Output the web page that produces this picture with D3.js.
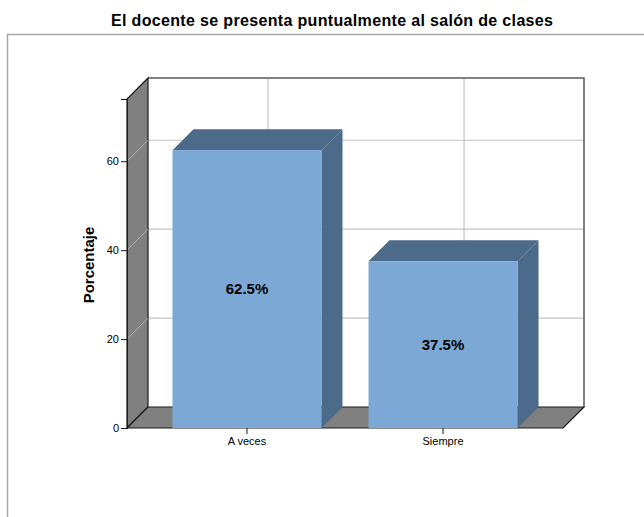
<!DOCTYPE html>
<html>
<head>
<meta charset="utf-8">
<script src="https://cdn.jsdelivr.net/npm/d3@7"></script>
<style>
  html, body { margin: 0; padding: 0; background: #fff; }
  svg { display: block; font-family: Arial, "Liberation Sans", sans-serif; }
</style>
</head>
<body>
<svg id="chart" width="644" height="517"></svg>
<script>
// Chart data
const chartTitle = "El docente se presenta puntualmente al salón de clases";
const yTitle = "Porcentaje";
const categories = ["A veces", "Siempre"];
const percentages = [62.5, 37.5];
const yTicks = [0, 20, 40, 60];
const yMax = 74;

(function () {
  const svg = d3.select("#chart");

  // Front plane of the 3D box and the depth offset to the back wall
  const plotLeft = 127, plotRight = 563, plotBottom = 428, plotTop = 99;
  const depth = 21;

  const y = d3.scaleLinear().domain([0, yMax]).range([plotBottom, plotTop]);
  const x = d3.scaleBand().domain(categories).range([plotLeft, plotRight])
    .paddingInner(0.5).paddingOuter(0.362);
  const bw = 149;

  // Outer frame
  svg.append("rect").attr("x", 7.5).attr("y", 34.5).attr("width", 660).attr("height", 520)
    .attr("fill", "none").attr("stroke", "#a6a6a6").attr("stroke-width", 1.5);

  // Title
  svg.append("text").attr("x", 332).attr("y", 26).attr("text-anchor", "middle")
    .attr("font-size", 16).attr("font-weight", "bold").attr("fill", "#000")
    .attr("textLength", 442).attr("lengthAdjust", "spacing")
    .text(chartTitle);

  const pts = a => a.map(p => p.join(",")).join(" ");

  // Back wall
  svg.append("rect").attr("x", plotLeft + depth).attr("y", plotTop - depth)
    .attr("width", plotRight - plotLeft).attr("height", plotBottom - plotTop)
    .attr("fill", "#fff");

  // Horizontal grid lines on the back wall
  yTicks.filter(t => t > 0).forEach(t => {
    svg.append("line")
      .attr("x1", plotLeft + depth).attr("x2", plotRight + depth)
      .attr("y1", y(t) - depth).attr("y2", y(t) - depth)
      .attr("stroke", "#c4c4c4").attr("stroke-width", 1.2);
  });
  // Vertical grid lines at the category centres
  categories.forEach(c => {
    const cx = x(c) + x.bandwidth() / 2 + depth;
    svg.append("line").attr("x1", cx).attr("x2", cx)
      .attr("y1", plotTop - depth).attr("y2", plotBottom - depth)
      .attr("stroke", "#c4c4c4").attr("stroke-width", 1.2);
  });

  // Back wall outline (top and right edges)
  svg.append("polyline")
    .attr("points", pts([[plotLeft + depth, plotTop - depth], [plotRight + depth, plotTop - depth], [plotRight + depth, plotBottom - depth]]))
    .attr("fill", "none").attr("stroke", "#5a5a5a").attr("stroke-width", 1.5);

  // Left side wall
  svg.append("polygon")
    .attr("points", pts([[plotLeft, plotBottom], [plotLeft, plotTop], [plotLeft + depth, plotTop - depth], [plotLeft + depth, plotBottom - depth]]))
    .attr("fill", "#808080").attr("stroke", "#1a1a1a").attr("stroke-width", 1.2);
  yTicks.filter(t => t > 0).forEach(t => {
    svg.append("line")
      .attr("x1", plotLeft).attr("y1", y(t))
      .attr("x2", plotLeft + depth).attr("y2", y(t) - depth)
      .attr("stroke", "#b0b0b0").attr("stroke-width", 1);
  });

  // Floor
  svg.append("polygon")
    .attr("points", pts([[plotLeft, plotBottom], [plotRight, plotBottom], [plotRight + depth, plotBottom - depth], [plotLeft + depth, plotBottom - depth]]))
    .attr("fill", "#808080").attr("stroke", "#1a1a1a").attr("stroke-width", 1.2);

  // Bars
  const bars = svg.selectAll("g.bar").data(categories.map((c, i) => ({ c, v: percentages[i] })))
    .enter().append("g").attr("class", "bar");

  bars.each(function (d) {
    const g = d3.select(this);
    const cx = x(d.c) + x.bandwidth() / 2;
    const x0 = cx - bw / 2, x1 = cx + bw / 2;
    const yt = y(d.v), yb = y(0);
    // right side
    g.append("polygon")
      .attr("points", pts([[x1, yt], [x1 + depth, yt - depth], [x1 + depth, yb - depth], [x1, yb]]))
      .attr("fill", "#4c6a89");
    // top
    g.append("polygon")
      .attr("points", pts([[x0, yt], [x0 + depth, yt - depth], [x1 + depth, yt - depth], [x1, yt]]))
      .attr("fill", "#4c6a89");
    // front face
    g.append("rect").attr("x", x0).attr("y", yt).attr("width", bw).attr("height", yb - yt)
      .attr("fill", "#7ba8d5");
    // value label
    g.append("text").attr("x", cx).attr("y", (yt + yb) / 2 + 5)
      .attr("text-anchor", "middle").attr("font-size", 15).attr("font-weight", "bold")
      .attr("fill", "#000")
      .text(d3.format(".1f")(d.v) + "%");
  });

  // Y axis
  const yAxis = svg.append("g").attr("transform", `translate(${plotLeft},0)`)
    .call(d3.axisLeft(y).tickValues(yTicks).tickSize(6).tickPadding(2));
  yAxis.select(".domain").attr("stroke", "#1a1a1a");
  yAxis.selectAll(".tick line").attr("stroke", "#1a1a1a");
  yAxis.selectAll(".tick text").attr("font-size", 11).attr("font-family", "Arial, 'Liberation Sans', sans-serif").attr("fill", "#000");

  // X axis
  const xAxis = svg.append("g").attr("transform", `translate(0,${plotBottom})`)
    .call(d3.axisBottom(x).tickSize(6).tickPadding(3));
  xAxis.select(".domain").remove();
  xAxis.selectAll(".tick line").attr("stroke", "#1a1a1a");
  xAxis.selectAll(".tick text").attr("font-size", 11).attr("font-family", "Arial, 'Liberation Sans', sans-serif").attr("fill", "#000");

  // Y axis title
  svg.append("text")
    .attr("transform", `translate(94,265) rotate(-90)`)
    .attr("text-anchor", "middle").attr("font-size", 15).attr("font-weight", "bold")
    .attr("fill", "#000").text(yTitle);
})();
</script>
</body>
</html>
